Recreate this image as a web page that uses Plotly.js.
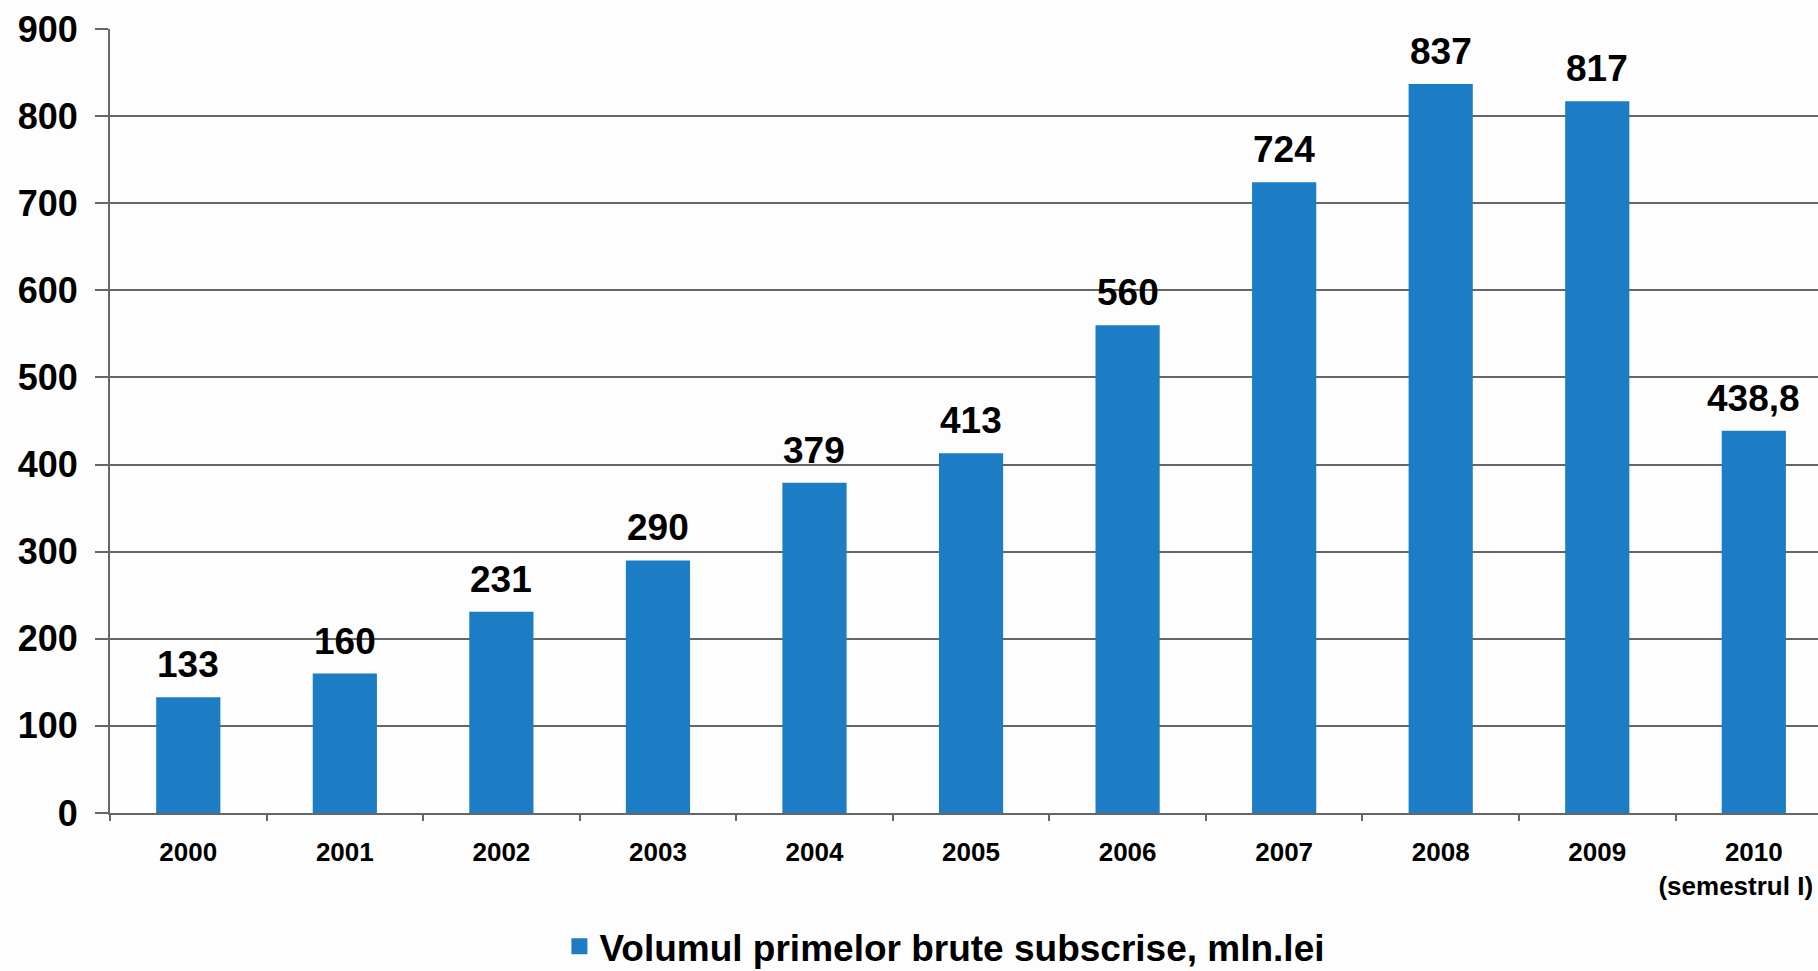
<!DOCTYPE html>
<html>
<head>
<meta charset="utf-8">
<script src="https://cdn.plot.ly/plotly-3.0.1.min.js"></script>
<style>
html,body{margin:0;padding:0;background:#fdfdfd;}
#chart{width:1818px;height:971px;}
</style>
</head>
<body>
<div id="chart"></div>
<script>
const categories = ['2000','2001','2002','2003','2004','2005','2006','2007','2008','2009','2010<br>(semestrul I)'];
const values = [133, 160, 231, 290, 379, 413, 560, 724, 837, 817, 438.8];
const valueLabels = ['133','160','231','290','379','413','560','724','837','817','438,8'];
const seriesName = 'Volumul primelor brute subscrise, mln.lei';
const yTicks = [0,100,200,300,400,500,600,700,800,900];

const FONT = 'Liberation Sans, Arial, sans-serif';
const BLUE = '#1c7dc5';
const GRAY = '#666666';

// the last, two-line label sits at the page edge: pad its second line so it stays inside
const PAD = '\u00A0\u00A0\u00A0\u00A0\u00A0';
const tickText = categories.map(c => c.indexOf('<br>') >= 0 ? c + PAD : c);

const traces = [
  {
    type: 'bar',
    x: categories,
    y: values,
    marker: {color: BLUE},
    showlegend: false,
    hoverinfo: 'x+y'
  },
  {
    type: 'scatter',
    mode: 'markers',
    x: [null],
    y: [null],
    name: seriesName,
    marker: {symbol: 'square', size: 16, color: BLUE},
    showlegend: true
  }
];

const annotations = categories.map((c, i) => ({
  x: i, y: values[i], xref: 'x', yref: 'y',
  text: valueLabels[i], showarrow: false,
  yanchor: 'bottom', yshift: 10,
  font: {family: FONT, size: 37, color: '#000', weight: 'bold'}
}));

const layout = {
  width: 1818, height: 971,
  paper_bgcolor: '#fdfdfd', plot_bgcolor: '#fdfdfd',
  margin: {l: 110, r: 0, t: 29, b: 158},
  bargap: 0.59,
  font: {family: FONT, color: '#000'},
  xaxis: {
    type: 'category',
    range: [-0.5, 10.41],
    tickmode: 'array',
    tickvals: categories,
    ticktext: tickText,
    tickangle: 0,
    showgrid: false,
    showline: true, linecolor: GRAY, linewidth: 2,
    ticks: 'outside', tickson: 'boundaries', ticklen: 6, tickwidth: 2, tickcolor: GRAY,
    ticklabelstandoff: 15,
    tickfont: {family: FONT, size: 26, color: '#000', weight: 'bold'},
    fixedrange: true
  },
  yaxis: {
    range: [0, 900],
    tickvals: yTicks,
    showgrid: true, gridcolor: GRAY, gridwidth: 2,
    showline: true, linecolor: GRAY, linewidth: 2,
    zeroline: false,
    ticks: 'outside', ticklen: 13, tickwidth: 2, tickcolor: GRAY,
    ticklabelstandoff: 10,
    tickfont: {family: FONT, size: 36, color: '#000', weight: 'bold'},
    fixedrange: true
  },
  legend: {
    orientation: 'h',
    x: 0.3077, xanchor: 'left', xref: 'container',
    y: 0.025, yanchor: 'middle', yref: 'container',
    font: {family: FONT, size: 37, color: '#000', weight: 'bold'},
    bgcolor: 'rgba(0,0,0,0)',
    itemwidth: 30
  },
  annotations: annotations
};

Plotly.newPlot('chart', traces, layout, {displayModeBar: false, staticPlot: true});
</script>
</body>
</html>
